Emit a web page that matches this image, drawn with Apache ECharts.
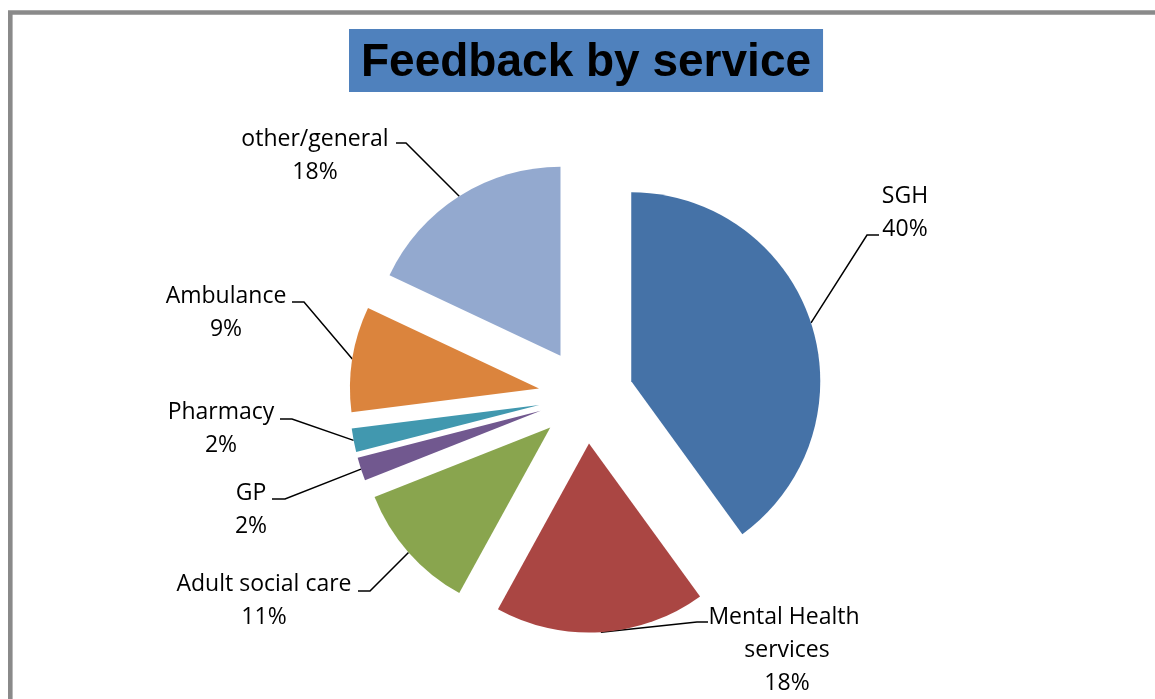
<!DOCTYPE html>
<html>
<head>
<meta charset="utf-8">
<script src="https://cdn.jsdelivr.net/npm/echarts@6/dist/echarts.min.js"></script>
<style>
  html, body { margin: 0; padding: 0; background: #ffffff; }
  #chart { width: 1155px; height: 699px; }
</style>
</head>
<body>
<div id="chart"></div>
<script>
// ---- data ----
const titleText = 'Feedback by service';
const categories = ['SGH', 'Mental Health services', 'Adult social care', 'GP', 'Pharmacy', 'Ambulance', 'other/general'];
const percents = [40, 18, 11, 2, 2, 9, 18];
const sliceColors = ['#4572A7', '#AA4643', '#89A54E', '#71588F', '#4198AF', '#DB843D', '#93A9CF'];

// ---- layout (label placement, not data) ----
// [textCenterX, textCenterY, leaderEndX, leaderY, leaderElbowX]
const labelSpots = [
  [905, 212.5, 879, 235, 867],
  [787, 650.5, 708, 622, 697],
  [264, 600.5, 358, 591, 370],
  [251, 509.5, 272, 499, 285],
  [221, 428.5, 280, 419, 292],
  [226, 312.5, 292, 302, 304],
  [315, 155.5, 396, 143, 406]
];
const pieCenter = [586, 396];
const pieRadius = 189;
const explode = 47.6;

const chart = echarts.init(document.getElementById('chart'), null, { renderer: 'canvas' });

const total = percents.reduce((a, b) => a + b, 0);

// Exploded pie: one pie series per slice, each shifted outward along its own mid-angle.
const pieSeries = categories.map((cat, i) => {
  let cum = 0;
  for (let k = 0; k < i; k++) cum += percents[k];
  const mid = (cum + percents[i] / 2) / total * Math.PI * 2;
  const center = [pieCenter[0] + explode * Math.sin(mid), pieCenter[1] - explode * Math.cos(mid)];
  return {
    type: 'pie',
    silent: true,
    center: center,
    radius: pieRadius,
    startAngle: 90,
    clockwise: true,
    avoidLabelOverlap: false,
    emphasis: { disabled: true },
    itemStyle: { borderWidth: 0 },
    data: categories.map((name, j) => ({
      name: name,
      value: percents[j],
      itemStyle: { color: j === i ? sliceColors[j] : 'rgba(0,0,0,0)' },
      label: { show: j === i },
      labelLine: { show: j === i }
    })),
    label: {
      position: 'outside',
      formatter: '{b}\n{c}%',
      fontFamily: 'Open Sans, sans-serif',
      fontSize: 23,
      lineHeight: 33,
      color: '#000000',
      width: 200,
      overflow: 'break'
    },
    labelLine: {
      smooth: false,
      lineStyle: { color: '#000000', width: 1.5 }
    },
    labelLayout: function (params) {
      const s = labelSpots[params.dataIndex];
      const p0 = params.labelLinePoints ? params.labelLinePoints[0] : [s[4], s[3]];
      return {
        x: s[0],
        y: s[1],
        align: 'center',
        verticalAlign: 'middle',
        hideOverlap: false,
        labelLinePoints: [p0, [s[4], s[3]], [s[2], s[3]]]
      };
    }
  };
});

chart.setOption({
  animation: false,
  backgroundColor: '#ffffff',
  title: {
    text: titleText,
    left: 349,
    top: 29,
    padding: [6, 12, 1, 12],
    backgroundColor: '#4F81BD',
    textStyle: {
      fontFamily: 'Liberation Sans, Arial, sans-serif',
      fontWeight: 'bold',
      fontSize: 46,
      lineHeight: 56,
      color: '#000000'
    }
  },
  graphic: [{
    type: 'rect',
    silent: true,
    shape: { x: 10.3, y: 12.5, width: 1300, height: 900 },
    style: { fill: 'none', stroke: '#8a8a8a', lineWidth: 4.6 }
  }],
  series: pieSeries
});
</script>
</body>
</html>
